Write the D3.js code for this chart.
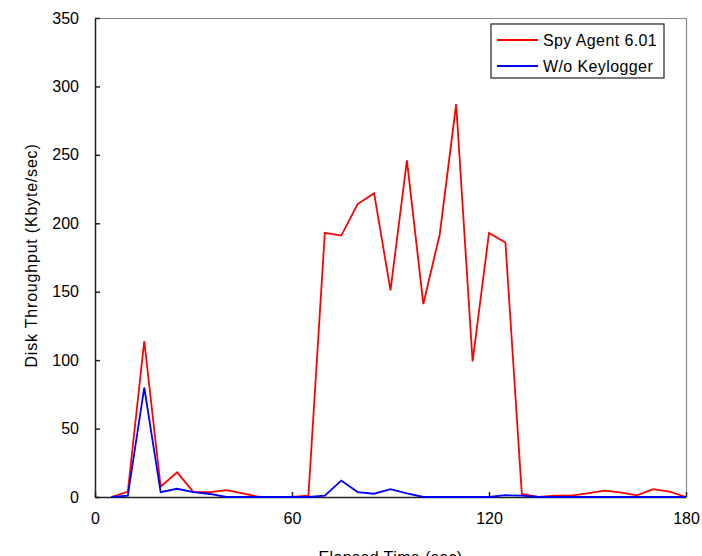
<!DOCTYPE html>
<html>
<head>
<meta charset="utf-8">
<script src="https://cdn.jsdelivr.net/npm/d3@7"></script>
<style>
  body { margin: 0; background: #fff; }
  text { font-family: "Liberation Sans", Arial, sans-serif; fill: #000; }
</style>
</head>
<body>
<div id="chart"></div>
<script>
// elapsed time (sec), one sample every 5 s
var times = [5, 10, 15, 20, 25, 30, 35, 40, 45, 50, 55, 60, 65, 70, 75, 80, 85, 90, 95, 100,
  105, 110, 115, 120, 125, 130, 135, 140, 145, 150, 155, 160, 165, 170, 175, 180];

// Spy Agent 6.01
var spyAgent = [0, 4, 114, 7.5, 18, 3.6, 3.6, 5, 2.7, 0, 0, 0, 1, 193, 191, 214, 222, 151, 246, 141,
  192, 287, 99, 193, 186, 2.2, 0, 1, 1, 2.7, 4.6, 3.4, 1.2, 5.8, 3.9, 0];

// W/o Keylogger
var noKeylogger = [0, 1, 80, 3.6, 6, 3.5, 2.2, 0, 0, 0, 0, 0, 0, 1, 12, 3.6, 2.4, 5.8, 2.7, 0,
  0, 0, 0, 0, 1.3, 1, 0, 0, 0, 0, 0, 0, 0, 0, 0, 0];

var seriesNames = ["Spy Agent 6.01", "W/o Keylogger"];
var seriesColors = ["#ff0000", "#0000ff"];
var xTicks = [0, 60, 120, 180];
var yTicks = [0, 50, 100, 150, 200, 250, 300, 350];

var margin = { top: 18, right: 16, bottom: 59, left: 95 };
var W = 702, H = 556;
var width = W - margin.left - margin.right,
    height = H - margin.top - margin.bottom;

var svg = d3.select("#chart")
  .append("svg")
  .attr("width", W)
  .attr("height", H)
  .append("g")
  .attr("transform", "translate(" + margin.left + "," + margin.top + ")");

var x = d3.scaleLinear().domain([0, 180]).range([0, width]);
var y = d3.scaleLinear().domain([0, 350]).range([height, 0]);

// frame: top and right edges
svg.append("path")
  .attr("d", "M0,0.5H" + width + ".5V" + height)
  .attr("fill", "none")
  .attr("stroke", "#888")
  .attr("stroke-width", 1.2);

var xAxis = d3.axisBottom(x).tickValues(xTicks).tickSizeInner(-5).tickSizeOuter(0).tickPadding(16);
var yAxis = d3.axisLeft(y).tickValues(yTicks).tickSizeInner(-5).tickSizeOuter(0).tickPadding(16);

var gx = svg.append("g")
  .attr("transform", "translate(0," + height + ")")
  .call(xAxis);
var gy = svg.append("g").call(yAxis);

[gx, gy].forEach(function (g) {
  g.selectAll("path, line").attr("stroke", "#222").attr("stroke-width", 1.5);
  g.selectAll("text").style("font-size", "16px");
});

var line = d3.line()
  .x(function (d, i) { return x(times[i]); })
  .y(function (d) { return y(d); });

[spyAgent, noKeylogger].forEach(function (s, i) {
  svg.append("path")
    .datum(s)
    .attr("fill", "none")
    .attr("stroke", seriesColors[i])
    .attr("stroke-width", 1.8)
    .attr("stroke-linejoin", "miter")
    .attr("d", line);
});

// axis titles (the x title is partly below the page edge, as in the original)
svg.append("text")
  .attr("x", width / 2)
  .attr("y", height + 66)
  .attr("text-anchor", "middle")
  .style("font-size", "16px")
  .style("letter-spacing", "0.4px")
  .text("Elapsed Time (sec)");

svg.append("text")
  .attr("transform", "rotate(-90)")
  .attr("x", -height / 2 + 2)
  .attr("y", -58)
  .attr("text-anchor", "middle")
  .style("font-size", "16px")
  .style("letter-spacing", "0.8px")
  .text("Disk Throughput (Kbyte/sec)");

// legend
var legend = svg.append("g").attr("transform", "translate(396,6)");
legend.append("rect")
  .attr("width", 173)
  .attr("height", 54)
  .attr("fill", "#fff")
  .attr("stroke", "#222")
  .attr("stroke-width", 1.2);

seriesNames.forEach(function (name, i) {
  var ly = 16 + i * 26;
  legend.append("line")
    .attr("x1", 6).attr("x2", 47)
    .attr("y1", ly).attr("y2", ly)
    .attr("stroke", seriesColors[i])
    .attr("stroke-width", 1.8);
  legend.append("text")
    .attr("x", 52)
    .attr("y", ly)
    .attr("dy", "0.35em")
    .style("font-size", "16px")
    .style("letter-spacing", "0.4px")
    .text(name);
});
</script>
</body>
</html>
